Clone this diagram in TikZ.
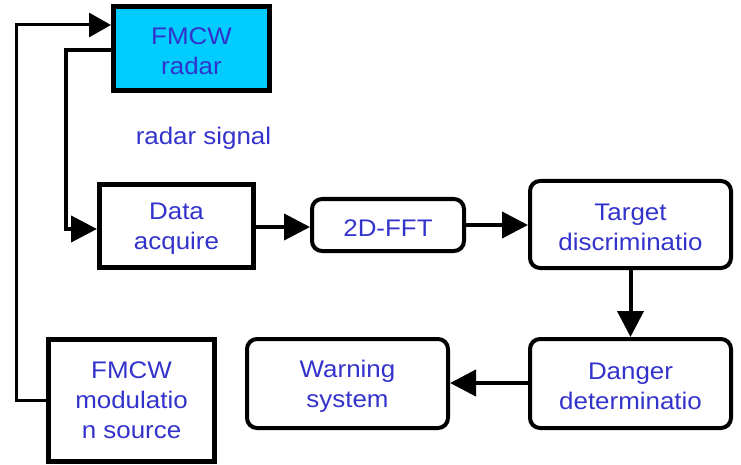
\documentclass[tikz,border=0pt]{standalone}
\usepackage{fontspec}
\setmainfont{Liberation Sans}[FakeStretch=1.08]
\usetikzlibrary{arrows.meta}
\definecolor{boxtext}{HTML}{3333CC}
\definecolor{radarfill}{HTML}{00CCFF}
\tikzset{
  blockbase/.style={draw=black, inner sep=0pt},
  boxlabel/.style={text=boxtext, align=center, inner sep=0pt,
    font=\fontsize{24}{30}\selectfont},
  % box text, set a little below the geometric centre
  txt/.style={label={[boxlabel, yshift=-3pt]center:#1}},
  sqbox/.style={blockbase, line width=5pt},
  rbox/.style={blockbase, line width=4pt, rounded corners=10pt},
  conn/.style={draw=black, line width=4pt,
    -{Triangle[length=26pt,width=26pt]}},
  loopconn/.style={draw=black, line width=3pt,
    -{Triangle[length=22pt,width=24pt]}},
  caption/.style={text=boxtext, font=\fontsize{24}{30}\selectfont, inner sep=0pt}
}
\begin{document}
\begin{tikzpicture}[x=1pt,y=-1pt]
  \useasboundingbox (0,0) rectangle (741,465);

  % blocks
  \node[sqbox, fill=radarfill, minimum width=156pt, minimum height=84pt,
    txt={FMCW\\radar}] (radar) at (191.5,48.5) {};
  \node[sqbox, minimum width=154pt, minimum height=83pt,
    txt={Data\\acquire}] (data) at (176.5,226) {};
  \node[rbox, minimum width=152pt, minimum height=52pt,
    txt={2D-FFT}] (fft) at (388,225) {};
  \node[rbox, minimum width=201pt, minimum height=87pt,
    txt={Target\\discriminatio}] (target) at (630.5,224.5) {};
  \node[rbox, minimum width=201pt, minimum height=89pt,
    txt={Danger\\determinatio}] (danger) at (630.5,383.5) {};
  \node[rbox, minimum width=201pt, minimum height=89pt,
    txt={Warning\\system}] (warn) at (347.5,383.5) {};
  \node[sqbox, minimum width=166pt, minimum height=122pt,
    label={[boxlabel]center:{FMCW\\modulatio\\n source}}] (mod) at (131.5,400.5) {};

  \node[caption, anchor=base] (sig) at (203.5,145) {radar signal};

  % modulation feedback to the radar
  \draw[loopconn] (mod.west) -| (16,25) -- (radar.west |- 0,25);
  % radar output into acquisition
  \draw[conn] (radar.west |- 0,50) -| (66,229) -- (data.west |- 0,229);
  % processing chain
  \draw[conn] (data.east |- 0,227) -- (fft.west |- 0,227);
  \draw[conn] (fft.east) -- (target.west |- fft.east);
  \draw[conn] (target.south) -- (danger.north);
  \draw[conn] (danger.west |- 0,383) -- (warn.east |- 0,383);
\end{tikzpicture}
\end{document}
